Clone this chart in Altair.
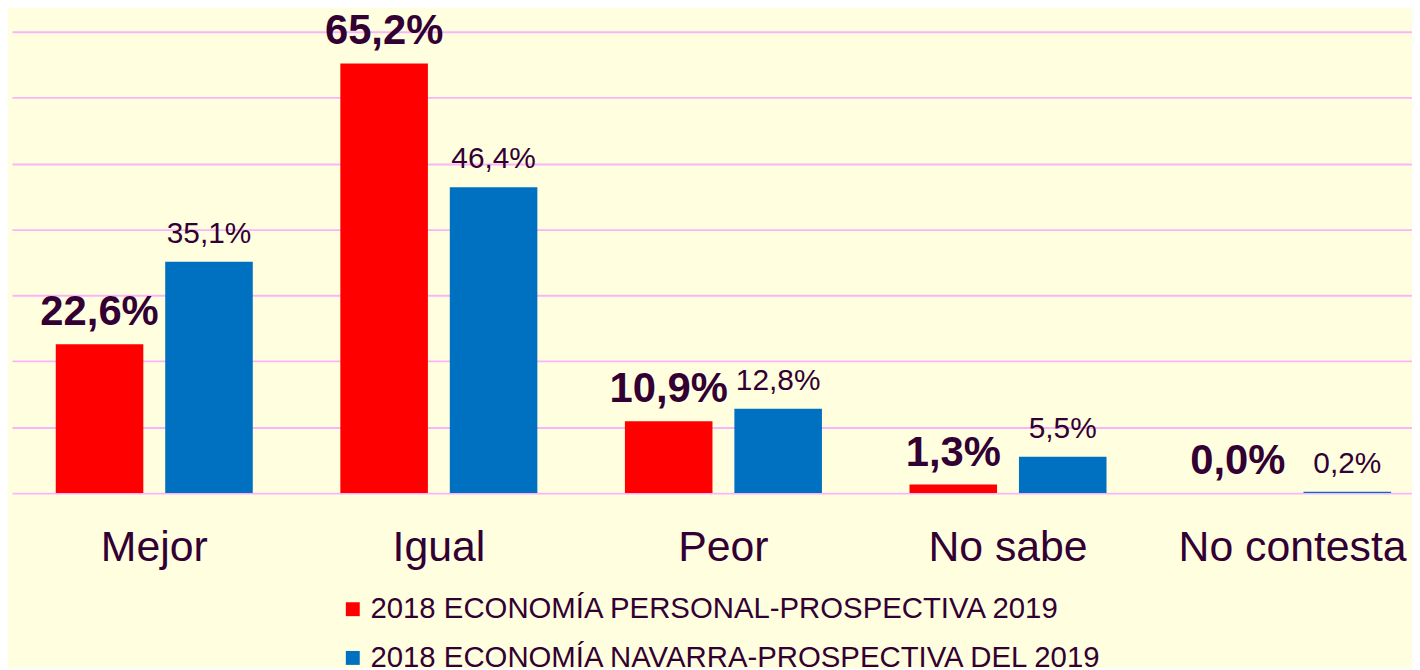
import altair as alt
import pandas as pd

categories = ["Mejor", "Igual", "Peor", "No sabe", "No contesta"]
series_names = [
    "2018 ECONOMÍA PERSONAL-PROSPECTIVA 2019",
    "2018 ECONOMÍA NAVARRA-PROSPECTIVA DEL 2019",
]
personal = [22.6, 65.2, 10.9, 1.3, 0.0]
navarra = [35.1, 46.4, 12.8, 5.5, 0.2]
colors = ["#FF0000", "#0070C0"]

rows = []
for c, a, b in zip(categories, personal, navarra):
    rows.append({"cat": c, "serie": series_names[0], "val": a})
    rows.append({"cat": c, "serie": series_names[1], "val": b})
df = pd.DataFrame(rows)
df["label"] = df["val"].map(lambda v: f"{v:.1f}".replace(".", ",") + "%")

TXT = "#330033"
FONT = "Liberation Sans"

x = alt.X(
    "cat:N",
    sort=categories,
    scale=alt.Scale(range=[0, 1431], paddingInner=0, paddingOuter=0),
    axis=alt.Axis(
        title=None, labelAngle=0, labelFontSize=43, labelColor=TXT, labelFont=FONT,
        ticks=False, domain=False, labelPadding=34, grid=False, labelLimit=600,
    ),
)
xoff = alt.XOffset(
    "serie:N", sort=series_names,
    scale=alt.Scale(paddingInner=0.2, paddingOuter=0.40),
)
y = alt.Y(
    "val:Q",
    scale=alt.Scale(domain=[0, 70], nice=False),
    axis=alt.Axis(
        title=None, labels=False, ticks=False, domain=False,
        values=[0, 10, 20, 30, 40, 50, 60, 70],
        grid=True, gridColor="#FBB4FB", gridWidth=1.8, gridOpacity=1,
    ),
)
color = alt.Color(
    "serie:N",
    scale=alt.Scale(domain=series_names, range=colors),
    legend=alt.Legend(
        title=None, orient="none", legendX=328, legendY=566, direction="vertical",
        symbolType="square", symbolSize=196, symbolStrokeWidth=0, symbolOpacity=1,
        labelFontSize=29.5, labelColor=TXT, labelFont=FONT, labelOffset=3,
        rowPadding=18, labelLimit=1000,
    ),
)

bars = alt.Chart(df).mark_bar().encode(x=x, xOffset=xoff, y=y, color=color)

text_red = (
    alt.Chart(df)
    .transform_filter(alt.datum.serie == series_names[0])
    .mark_text(font=FONT, fontSize=42, fontWeight="bold", color=TXT, dy=-19, baseline="alphabetic")
    .encode(x=x, xOffset=xoff, y="val:Q", text="label:N")
)
text_blue = (
    alt.Chart(df)
    .transform_filter(alt.datum.serie == series_names[1])
    .mark_text(font=FONT, fontSize=30, color=TXT, dy=-19, baseline="alphabetic")
    .encode(x=x, xOffset=xoff, y="val:Q", text="label:N")
)

chart = (
    alt.layer(bars, text_red, text_blue)
    .properties(
        width=1408, height=464,
        background="#FFFFE0",
        padding={"left": 4, "top": 22, "right": 0, "bottom": 174},
        autosize=alt.AutoSizeParams(type="none"),
    )
    .configure_view(stroke=None)
)

chart.save("out.html", embed_options={"renderer": "svg", "actions": False})
